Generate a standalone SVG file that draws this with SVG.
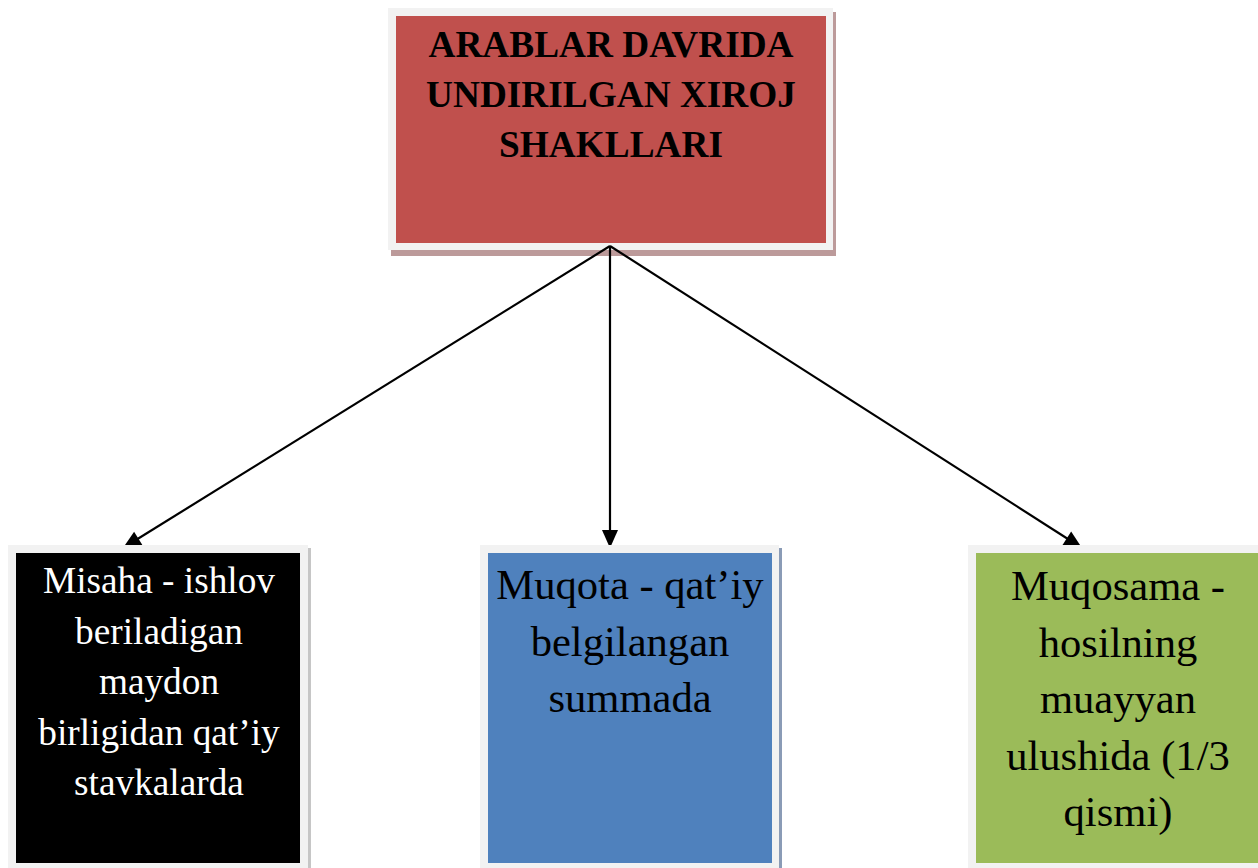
<svg xmlns="http://www.w3.org/2000/svg" width="1258" height="868" viewBox="0 0 1258 868">
  <style>
    .frame { fill: #f2f2f2; }
    .title { font-family: "Liberation Serif", "Times New Roman", serif; font-weight: bold; font-size: 37.3px; fill: #000; text-anchor: middle; }
    .lbl { font-family: "Liberation Serif", "Times New Roman", serif; text-anchor: middle; }
    .small { font-size: 37.3px; }
    .big { font-size: 42.6px; }
    .link { stroke: #000; stroke-width: 2.2; fill: none; marker-end: url(#arrow); }
  </style>
  <defs>
    <!-- solid triangular arrowhead, tip at the line end -->
    <marker id="arrow" markerUnits="userSpaceOnUse" markerWidth="20" markerHeight="18" refX="18" refY="8" orient="auto" overflow="visible">
      <path d="M0,0 L18,8 L0,16 Z" fill="#000"/>
    </marker>
  </defs>
  <rect width="1258" height="868" fill="#fff"/>

  <!-- root node -->
  <g id="root">
    <rect x="391" y="12" width="445" height="244" fill="#bc9a9a"/>
    <rect class="frame" x="388" y="8" width="445" height="242"/>
    <rect x="396" y="16" width="430" height="227" fill="#c0504d"/>
    <text class="title" x="611" y="57">ARABLAR DAVRIDA</text>
    <text class="title" x="611" y="107">UNDIRILGAN XIROJ</text>
    <text class="title" x="611" y="157">SHAKLLARI</text>
  </g>

  <!-- connectors -->
  <g id="connectors">
    <line class="link" x1="610" y1="246" x2="123" y2="548"/>
    <line class="link" x1="610" y1="246" x2="610" y2="548"/>
    <line class="link" x1="610" y1="246" x2="1082" y2="548"/>
  </g>

  <!-- Misaha -->
  <g id="misaha">
    <rect x="11" y="548" width="300" height="320" fill="#c6c6c6"/>
    <rect class="frame" x="8" y="545" width="300" height="323"/>
    <rect x="16" y="553" width="284" height="310" fill="#000"/>
    <g class="lbl small" fill="#fff">
      <text x="159" y="593">Misaha - ishlov</text>
      <text x="159" y="643.5">beriladigan</text>
      <text x="159" y="694">maydon</text>
      <text x="159" y="744.5">birligidan qat’iy</text>
      <text x="159" y="795">stavkalarda</text>
    </g>
  </g>

  <!-- Muqota -->
  <g id="muqota">
    <rect x="483" y="548" width="299" height="320" fill="#8a9bb6"/>
    <rect class="frame" x="480" y="545" width="299" height="323"/>
    <rect x="488" y="553" width="284" height="310" fill="#4f81bd"/>
    <g class="lbl big" fill="#000">
      <text x="630" y="599">Muqota - qat’iy</text>
      <text x="630" y="655.5">belgilangan</text>
      <text x="630" y="712">summada</text>
    </g>
  </g>

  <!-- Muqosama -->
  <g id="muqosama">
    <rect class="frame" x="968" y="545" width="300" height="323"/>
    <rect x="976" y="553" width="290" height="310" fill="#9bbb59"/>
    <g class="lbl big" fill="#000">
      <text x="1118" y="600">Muqosama -</text>
      <text x="1118" y="656.5">hosilning</text>
      <text x="1118" y="713">muayyan</text>
      <text x="1118" y="769.5">ulushida (1/3</text>
      <text x="1118" y="826">qismi)</text>
    </g>
  </g>
</svg>
